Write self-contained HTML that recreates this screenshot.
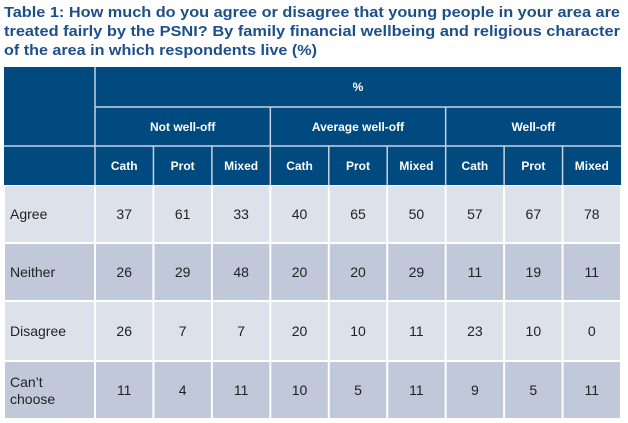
<!DOCTYPE html>
<html><head><meta charset="utf-8"><style>
html,body{margin:0;padding:0;background:#fff;width:628px;height:423px;overflow:hidden}
svg{display:block;font-family:"Liberation Sans",sans-serif}
</style></head><body>
<svg id="t" width="628" height="423" xmlns="http://www.w3.org/2000/svg">
<g fill="#1d4f8a" font-weight="bold" font-size="15">
<text x="4" y="17" textLength="616" lengthAdjust="spacingAndGlyphs">Table 1: How much do you agree or disagree that young people in your area are</text>
<text x="4" y="36" textLength="616" lengthAdjust="spacingAndGlyphs">treated fairly by the PSNI? By family financial wellbeing and religious character</text>
<text x="4" y="55" textLength="313" lengthAdjust="spacingAndGlyphs">of the area in which respondents live (%)</text>
</g>
<g id="body"></g>
</svg>
<script>
const groups = ["Not well-off","Average well-off","Well-off"];
const subcats = ["Cath","Prot","Mixed"];
const rowLabels = [["Agree"],["Neither"],["Disagree"],["Can’t","choose"]];
const agree = [37,61,33,40,65,50,57,67,78];
const neither = [26,29,48,20,20,29,11,19,11];
const disagree = [26,7,7,20,10,11,23,10,0];
const cantChoose = [11,4,11,10,5,11,9,5,11];
const series = [agree, neither, disagree, cantChoose];

const NS="http://www.w3.org/2000/svg";
const g=document.getElementById('body');
const L=4,C0=95,R=621,cw=(R-C0)/9;
const hy=[67,107,146,185];
const ry=[185,243,301,361,419];
const HB="#004a80";
function rect(x,y,w,h,f,name){const r=document.createElementNS(NS,'rect');
r.setAttribute('x',x+1);r.setAttribute('y',y+1);r.setAttribute('width',w-2);r.setAttribute('height',h-2);r.setAttribute('fill',f);


g.appendChild(r);return r;}
function text(x,y,s,opt,name){const t=document.createElementNS(NS,'text');
t.setAttribute('x',x);t.setAttribute('y',y);t.textContent=s;
t.setAttribute('font-size',opt.size||13);t.setAttribute('fill',opt.fill||'#222');
if(opt.bold)t.setAttribute('font-weight','bold');
t.setAttribute('text-anchor',opt.anchor||'middle');


g.appendChild(t);}
// header background
const bg=document.createElementNS(NS,'rect');
bg.setAttribute('x',L);bg.setAttribute('y',hy[0]);bg.setAttribute('width',R-L);bg.setAttribute('height',hy[3]-hy[0]);bg.setAttribute('fill',HB);


g.appendChild(bg);
// grid lines in header
function line(x1,y1,x2,y2,name){const l=document.createElementNS(NS,'line');
l.setAttribute('x1',x1);l.setAttribute('y1',y1);l.setAttribute('x2',x2);l.setAttribute('y2',y2);
l.setAttribute('stroke','#c9d3e2');l.setAttribute('stroke-width','1.5');


g.appendChild(l);}
line(C0,hy[0],C0,hy[3],'header-divider');
line(C0,hy[1],R,hy[1],'header-divider');
line(L,hy[2],R,hy[2],'header-divider');
for(let i=1;i<3;i++)line(C0+i*3*cw,hy[1],C0+i*3*cw,hy[3],'header-divider');
for(let i=1;i<9;i++)if(i%3)line(C0+i*cw,hy[2],C0+i*cw,hy[3],'header-divider');
text((C0+R)/2,hy[0]+24,'%',{bold:true,fill:'#fff',size:12},'percent-header');
groups.forEach((s,i)=>text(C0+(i*3+1.5)*cw,hy[1]+24,s,{bold:true,fill:'#fff',size:12},'group-header'));
for(let i=0;i<9;i++)text(C0+(i+0.5)*cw,hy[2]+24,subcats[i%3],{bold:true,fill:'#fff',size:12},'subcategory-header');
// body
series.forEach((vals,r)=>{
 const f=r%2?'#c1c8d9':'#dde1ea';
 const y=ry[r],h=ry[r+1]-ry[r];
 rect(L,y,C0-L,h,f,'row-label-cell');
 const lab=rowLabels[r];
 if(lab.length===1)text(10,y+h/2+5,lab[0],{anchor:'start',size:14},'row-label');
 else{text(10,y+h/2-3,lab[0],{anchor:'start',size:14},'row-label');text(10,y+h/2+14,lab[1],{anchor:'start',size:14},'row-label');}
 vals.forEach((v,c)=>{rect(C0+c*cw,y,cw,h,f,'data-cell');
  text(C0+(c+0.5)*cw,y+h/2+5,String(v),{size:14},'cell-value');});
});
</script>
</body></html>
